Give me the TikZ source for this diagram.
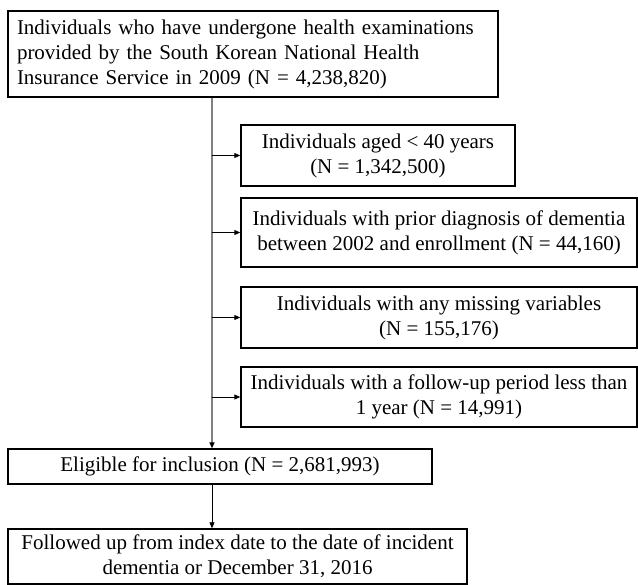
\documentclass[tikz,border=0pt]{standalone}
\usepackage{fontspec}
\setmainfont{Liberation Serif}
\usetikzlibrary{arrows.meta}
\begin{document}
\begin{tikzpicture}[x=1pt,y=1pt,
  box/.style={draw=black,line width=1.4pt,inner sep=0pt,font=\fontsize{21}{25}\selectfont},
  arr/.style={draw=black,line width=0.9pt,-{Triangle[length=6pt,width=5pt]}},
  trunk/.style={draw=black!50,line width=1.4pt},
  trunkarr/.style={draw=black!50,line width=1.4pt,-{Triangle[length=6pt,width=5pt,black]}}]
\useasboundingbox (0,0) rectangle (638,-585);
\node[box,minimum width=490,minimum height=86,text width=472,align=left] (b1) at (253,-54)
  {Individuals who have undergone health examinations\\provided by the South Korean National Health\\Insurance Service in 2009 (N = 4,238,820)};
\node[box,minimum width=274,minimum height=61,align=center] (b2) at (378,-155.5)
  {Individuals aged < 40 years\\(N = 1,342,500)};
\node[box,minimum width=396,minimum height=69,align=center] (b3) at (439,-232.5)
  {Individuals with prior diagnosis of dementia\\between 2002 and enrollment (N = 44,160)};
\node[box,minimum width=396,minimum height=61,align=center] (b4) at (439,-317.5)
  {Individuals with any missing variables\\(N = 155,176)};
\node[box,minimum width=396,minimum height=60,align=center] (b5) at (439,-397)
  {Individuals with a follow-up period less than\\1 year (N = 14,991)};
\node[box,minimum width=424,minimum height=35,align=center] (el) at (220,-466.5)
  {Eligible for inclusion (N = 2,681,993)};
\node[box,minimum width=459,minimum height=55,align=center] (fu) at (237.5,-556.5)
  {Followed up from index date to the date of incident\\dementia or December 31, 2016};
\coordinate (v) at (212,0);
\draw[trunkarr] (b1.south -| v) -- (el.north -| v);
\draw[arr] (b2.west -| v) -- (b2.west);
\draw[arr] (b3.west -| v) -- (b3.west);
\draw[arr] (b4.west -| v) -- (b4.west);
\draw[arr] (b5.west -| v) -- (b5.west);
\draw[arr] (el.south -| v) -- (fu.north -| v);
\end{tikzpicture}
\end{document}
